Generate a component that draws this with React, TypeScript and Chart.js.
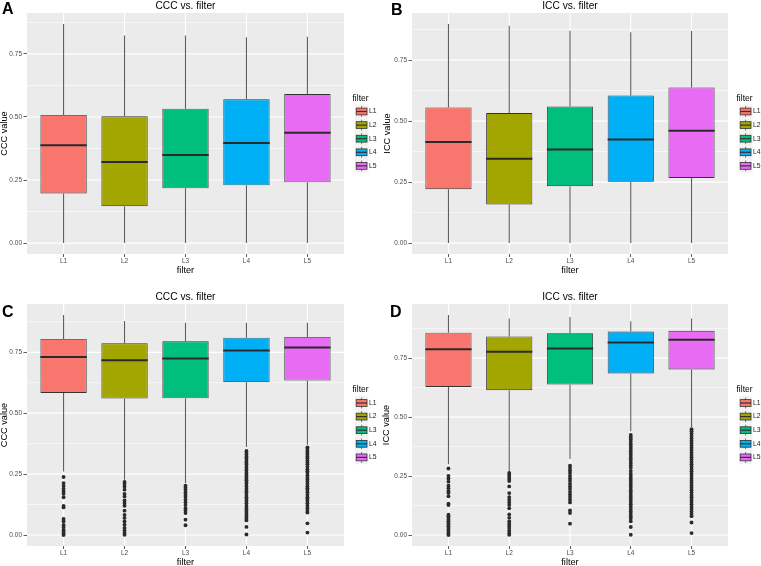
import React, { useEffect, useRef } from 'react';
import { Chart, registerables } from 'chart.js';

Chart.register(...registerables);

const FONT = '"Liberation Sans", Arial, Helvetica, sans-serif';
Chart.defaults.font.family = FONT;

// ---------- shared ----------
const categories = ['L1', 'L2', 'L3', 'L4', 'L5'];
const fillColors = ['#F8766D', '#A3A500', '#00BF7D', '#00B0F6', '#E76BF3'];
const yTickValues = [0, 0.25, 0.5, 0.75];
const yMinorValues = [0.125, 0.375, 0.625, 0.875];

// ---------- Panel A: CCC (first set) ----------
const aLow = [0, 0, 0, 0, 0];
const aQ1 = [0.197, 0.146, 0.217, 0.229, 0.241];
const aMedian = [0.388, 0.321, 0.349, 0.397, 0.437];
const aQ3 = [0.508, 0.503, 0.533, 0.57, 0.591];
const aHigh = [0.869, 0.823, 0.823, 0.816, 0.818];
const aOutliers: number[][] = [[], [], [], [], []];

// ---------- Panel B: ICC (first set) ----------
const bLow = [0, 0, 0, 0, 0];
const bQ1 = [0.221, 0.158, 0.233, 0.251, 0.267];
const bMedian = [0.414, 0.346, 0.383, 0.424, 0.46];
const bQ3 = [0.556, 0.533, 0.56, 0.605, 0.638];
const bHigh = [0.898, 0.891, 0.87, 0.864, 0.869];
const bOutliers: number[][] = [[], [], [], [], []];

// ---------- Panel C: CCC (second set) ----------
const cLow = [0.261, 0.227, 0.213, 0.361, 0.37];
const cQ1 = [0.583, 0.56, 0.561, 0.627, 0.634];
const cMedian = [0.731, 0.717, 0.724, 0.757, 0.77];
const cQ3 = [0.805, 0.787, 0.795, 0.81, 0.813];
const cHigh = [0.903, 0.878, 0.871, 0.871, 0.871];
const cOutliersL1 = [0.238, 0.213, 0.202, 0.19, 0.179, 0.169, 0.155, 0.119, 0.113, 0.066, 0.056, 0.041, 0.033, 0.022, 0.014, 0.006, 0.0];
const cOutliersL2 = [0.218, 0.21, 0.199, 0.186, 0.169, 0.158, 0.142, 0.131, 0.12, 0.1, 0.083, 0.07, 0.056, 0.042, 0.029, 0.018, 0.008, 0.001];
const cOutliersL3 = [0.203, 0.194, 0.186, 0.175, 0.165, 0.156, 0.145, 0.134, 0.123, 0.11, 0.101, 0.09, 0.063, 0.04];
const cOutliersL4 = [0.345, 0.338, 0.33, 0.322, 0.315, 0.305, 0.298, 0.29, 0.28, 0.272, 0.265, 0.255, 0.248, 0.24, 0.232, 0.225, 0.218, 0.21, 0.2, 0.19, 0.182, 0.175, 0.165, 0.155, 0.148, 0.14, 0.13, 0.12, 0.112, 0.105, 0.098, 0.09, 0.082, 0.075, 0.068, 0.06, 0.033, 0.002];
const cOutliersL5 = [0.36, 0.353, 0.345, 0.338, 0.33, 0.322, 0.315, 0.305, 0.298, 0.29, 0.28, 0.27, 0.262, 0.255, 0.245, 0.235, 0.228, 0.22, 0.21, 0.2, 0.192, 0.185, 0.175, 0.165, 0.155, 0.148, 0.14, 0.13, 0.12, 0.11, 0.1, 0.092, 0.048, 0.01];

// ---------- Panel D: ICC (second set) ----------
const dLow = [0.3, 0.27, 0.322, 0.44, 0.458];
const dQ1 = [0.628, 0.614, 0.638, 0.685, 0.702];
const dMedian = [0.788, 0.777, 0.791, 0.816, 0.828];
const dQ3 = [0.858, 0.842, 0.856, 0.863, 0.866];
const dHigh = [0.933, 0.918, 0.924, 0.907, 0.918];
const dOutliersL1 = [0.282, 0.251, 0.24, 0.226, 0.209, 0.198, 0.186, 0.178, 0.164, 0.133, 0.127, 0.086, 0.079, 0.072, 0.065, 0.058, 0.051, 0.044, 0.037, 0.03, 0.022, 0.014, 0.006, 0.0];
const dOutliersL2 = [0.263, 0.254, 0.246, 0.237, 0.229, 0.206, 0.178, 0.161, 0.15, 0.138, 0.127, 0.113, 0.087, 0.073, 0.058, 0.048, 0.039, 0.03, 0.018, 0.008, 0.001];
const dOutliersL3 = [0.294, 0.284, 0.274, 0.263, 0.251, 0.24, 0.229, 0.217, 0.206, 0.195, 0.183, 0.172, 0.161, 0.15, 0.138, 0.104, 0.093, 0.048];
const dOutliersL4 = [0.424, 0.415, 0.405, 0.395, 0.385, 0.375, 0.365, 0.355, 0.345, 0.335, 0.325, 0.315, 0.305, 0.295, 0.285, 0.272, 0.26, 0.25, 0.24, 0.23, 0.22, 0.21, 0.2, 0.19, 0.18, 0.17, 0.16, 0.15, 0.14, 0.13, 0.12, 0.11, 0.1, 0.09, 0.08, 0.07, 0.058, 0.034, 0.001];
const dOutliersL5 = [0.449, 0.44, 0.43, 0.42, 0.41, 0.4, 0.39, 0.38, 0.37, 0.36, 0.35, 0.34, 0.33, 0.32, 0.31, 0.3, 0.29, 0.28, 0.27, 0.26, 0.25, 0.24, 0.23, 0.22, 0.21, 0.2, 0.19, 0.18, 0.17, 0.16, 0.15, 0.14, 0.13, 0.12, 0.11, 0.1, 0.09, 0.08, 0.053, 0.008];

type PanelProps = {
  left: number; top: number; width: number; height: number;
  area: { l: number; t: number; r: number; b: number };
  title: string; titleY: number;
  yTitle: string; yTitleX: number; xTitleY: number;
  letter: string; letterX: number; letterY: number;
  low: number[]; q1: number[]; med: number[]; q3: number[]; high: number[];
  outliers: number[][];
};

function Panel(p: PanelProps) {
  const ref = useRef<HTMLCanvasElement | null>(null);
  useEffect(() => {
    const canvas = ref.current;
    if (!canvas) return;
    const all = [...p.low, ...p.high, ...p.outliers.flat()];
    const dMin = Math.min(...all);
    const dMax = Math.max(...all);
    const span = dMax - dMin;
    const yMin = dMin - 0.05 * span;
    const yMax = dMax + 0.05 * span;

    const axTitleSize = 9.2;
    const axTitleLH = axTitleSize * 1.2;
    const xTitlePadBottom = p.top + p.height - axTitleLH / 2 - p.xTitleY;
    const yTitlePadTop = p.yTitleX - p.left - axTitleLH / 2;

    const gg = {
      id: 'gg',
      beforeDatasetsDraw(chart: any) {
        const { ctx, chartArea: a, scales } = chart;
        const x = scales.x, y = scales.y;
        ctx.save();
        ctx.fillStyle = '#EBEBEB';
        ctx.fillRect(a.left, a.top, a.right - a.left, a.bottom - a.top);
        ctx.strokeStyle = '#FFFFFF';
        ctx.lineWidth = 0.6;
        yMinorValues.forEach((v) => {
          if (v < yMin || v > yMax) return;
          const py = y.getPixelForValue(v);
          ctx.beginPath(); ctx.moveTo(a.left, py); ctx.lineTo(a.right, py); ctx.stroke();
        });
        ctx.lineWidth = 1.2;
        yTickValues.forEach((v) => {
          if (v < yMin || v > yMax) return;
          const py = y.getPixelForValue(v);
          ctx.beginPath(); ctx.moveTo(a.left, py); ctx.lineTo(a.right, py); ctx.stroke();
        });
        categories.forEach((_, i) => {
          const px = x.getPixelForValue(i + 1);
          ctx.beginPath(); ctx.moveTo(px, a.top); ctx.lineTo(px, a.bottom); ctx.stroke();
        });
        // whiskers
        ctx.strokeStyle = '#5E5E5E';
        ctx.lineWidth = 1.1;
        categories.forEach((_, i) => {
          const px = x.getPixelForValue(i + 1);
          ctx.beginPath();
          ctx.moveTo(px, y.getPixelForValue(p.low[i]));
          ctx.lineTo(px, y.getPixelForValue(p.q1[i]));
          ctx.moveTo(px, y.getPixelForValue(p.q3[i]));
          ctx.lineTo(px, y.getPixelForValue(p.high[i]));
          ctx.stroke();
        });
        ctx.restore();
      },
      afterDatasetsDraw(chart: any) {
        const { ctx, scales } = chart;
        const y = scales.y;
        const meta = chart.getDatasetMeta(0);
        ctx.save();
        ctx.strokeStyle = '#2A2A2A';
        ctx.lineWidth = 2;
        meta.data.forEach((el: any, i: number) => {
          const py = y.getPixelForValue(p.med[i]);
          ctx.beginPath();
          ctx.moveTo(el.x - el.width / 2, py);
          ctx.lineTo(el.x + el.width / 2, py);
          ctx.stroke();
        });
        ctx.restore();
      },
      afterDraw(chart: any) {
        const { ctx, chartArea: a } = chart;
        ctx.save();
        // title
        ctx.fillStyle = '#000';
        ctx.font = `10.2px ${FONT}`;
        ctx.textAlign = 'center';
        ctx.textBaseline = 'alphabetic';
        ctx.fillText(p.title, (a.left + a.right) / 2, p.titleY - p.top);
        // letter
        ctx.font = `bold 16px ${FONT}`;
        ctx.textAlign = 'left';
        ctx.fillText(p.letter, p.letterX - p.left, p.letterY - p.top);
        // legend
        const cy = (a.top + a.bottom) / 2;
        ctx.font = `8.5px ${FONT}`;
        ctx.textBaseline = 'middle';
        ctx.fillText('filter', a.right + 8.5, cy - 35);
        const key = 13.6;
        const kx = a.right + 10.8;
        categories.forEach((c, i) => {
          const kc = cy - 22 + key * i;
          ctx.fillStyle = '#F2F2F2';
          ctx.fillRect(kx, kc - key / 2, key, key);
          ctx.strokeStyle = '#555';
          ctx.lineWidth = 0.8;
          ctx.beginPath();
          ctx.moveTo(kx + key / 2, kc - key / 2 + 1.4);
          ctx.lineTo(kx + key / 2, kc + key / 2 - 1.4);
          ctx.stroke();
          ctx.fillStyle = fillColors[i];
          ctx.fillRect(kx + 1.4, kc - 3.4, key - 2.8, 6.8);
          ctx.strokeStyle = '#333';
          ctx.strokeRect(kx + 1.4, kc - 3.4, key - 2.8, 6.8);
          ctx.lineWidth = 1.2;
          ctx.beginPath();
          ctx.moveTo(kx + 1.4, kc); ctx.lineTo(kx + key - 1.4, kc);
          ctx.stroke();
          ctx.fillStyle = '#1A1A1A';
          ctx.font = `6.8px ${FONT}`;
          ctx.textAlign = 'left';
          ctx.fillText(c, kx + key + 0.6, kc);
        });
        ctx.restore();
      },
    };

    const chart = new Chart(canvas, {
      type: 'bar',
      data: {
        datasets: [
          {
            type: 'bar',
            data: categories.map((_, i) => ({ x: i + 1, y: [p.q1[i], p.q3[i]] })) as any,
            backgroundColor: fillColors,
            borderColor: '#333333',
            borderWidth: 0.9,
            borderSkipped: false,
            barPercentage: 0.76,
            categoryPercentage: 1,
            order: 2,
          } as any,
          {
            type: 'scatter',
            data: p.outliers.flatMap((vals, i) => vals.map((v) => ({ x: i + 1, y: v }))),
            pointRadius: 1.9,
            pointBackgroundColor: '#2B2B2B',
            pointBorderWidth: 0,
            order: 1,
          } as any,
        ],
      },
      options: {
        responsive: false,
        animation: false,
        devicePixelRatio: 1,
        events: [],
        layout: {
          padding: { left: 0, top: p.area.t - p.top, right: p.left + p.width - p.area.r, bottom: 0 },
        },
        plugins: { legend: { display: false }, tooltip: { enabled: false }, title: { display: false } },
        scales: {
          x: {
            type: 'linear',
            min: 0.4,
            max: 5.6,
            offset: false,
            afterBuildTicks: (s: any) => { s.ticks = categories.map((_, i) => ({ value: i + 1 })); },
            afterFit: (s: any) => { s.height = p.height - (p.area.b - p.top); },
            ticks: {
              callback: (v: any) => categories[Math.round(Number(v)) - 1] ?? '',
              autoSkip: false, maxRotation: 0, minRotation: 0,
              font: { size: 6.5 }, color: '#4D4D4D', padding: 0,
            },
            grid: { offset: false, drawOnChartArea: false, drawTicks: true, tickLength: 3, color: '#333333', lineWidth: 0.8 },
            border: { display: false },
            title: { display: true, text: 'filter', font: { size: axTitleSize }, color: '#000', padding: { top: 0, bottom: xTitlePadBottom } },
          },
          y: {
            type: 'linear',
            min: yMin,
            max: yMax,
            afterBuildTicks: (s: any) => { s.ticks = yTickValues.filter((v) => v >= yMin && v <= yMax).map((v) => ({ value: v })); },
            afterFit: (s: any) => { s.width = p.area.l - p.left; },
            ticks: {
              callback: (v: any) => Number(v).toFixed(2),
              font: { size: 6.5 }, color: '#4D4D4D', padding: 1.5,
            },
            grid: { offset: false, drawOnChartArea: false, drawTicks: true, tickLength: 3.5, color: '#333333', lineWidth: 0.8 },
            border: { display: false },
            title: { display: true, text: p.yTitle, font: { size: axTitleSize }, color: '#000', padding: { top: yTitlePadTop, bottom: 0 } },
          },
        },
      } as any,
      plugins: [gg],
    });
    return () => chart.destroy();
  }, []);

  return (
    <canvas
      ref={ref}
      width={p.width}
      height={p.height}
      style={{ position: 'absolute', left: p.left, top: p.top, width: p.width, height: p.height }}
    />
  );
}

export default function App() {
  return (
    <div style={{ position: 'absolute', left: 0, top: 0, width: 761, height: 566, overflow: 'hidden', background: '#fff' }}>
      <Panel
        left={0} top={0} width={380} height={283}
        area={{ l: 27, t: 13, r: 344, b: 254 }}
        title="CCC vs. filter" titleY={9}
        yTitle="CCC value" yTitleX={4.5} xTitleY={270}
        letter="A" letterX={2} letterY={14}
        low={aLow} q1={aQ1} med={aMedian} q3={aQ3} high={aHigh} outliers={aOutliers}
      />
      <Panel
        left={380} top={0} width={381} height={283}
        area={{ l: 412, t: 13, r: 728, b: 254 }}
        title="ICC vs. filter" titleY={9}
        yTitle="ICC value" yTitleX={387} xTitleY={270}
        letter="B" letterX={391} letterY={15}
        low={bLow} q1={bQ1} med={bMedian} q3={bQ3} high={bHigh} outliers={bOutliers}
      />
      <Panel
        left={0} top={283} width={380} height={290}
        area={{ l: 27, t: 304, r: 344, b: 546 }}
        title="CCC vs. filter" titleY={299.5}
        yTitle="CCC value" yTitleX={4.5} xTitleY={562.5}
        letter="C" letterX={2} letterY={317}
        low={cLow} q1={cQ1} med={cMedian} q3={cQ3} high={cHigh}
        outliers={[cOutliersL1, cOutliersL2, cOutliersL3, cOutliersL4, cOutliersL5]}
      />
      <Panel
        left={380} top={283} width={381} height={290}
        area={{ l: 412, t: 304, r: 728, b: 546 }}
        title="ICC vs. filter" titleY={299.5}
        yTitle="ICC value" yTitleX={386.5} xTitleY={562.5}
        letter="D" letterX={390} letterY={317}
        low={dLow} q1={dQ1} med={dMedian} q3={dQ3} high={dHigh}
        outliers={[dOutliersL1, dOutliersL2, dOutliersL3, dOutliersL4, dOutliersL5]}
      />
    </div>
  );
}
